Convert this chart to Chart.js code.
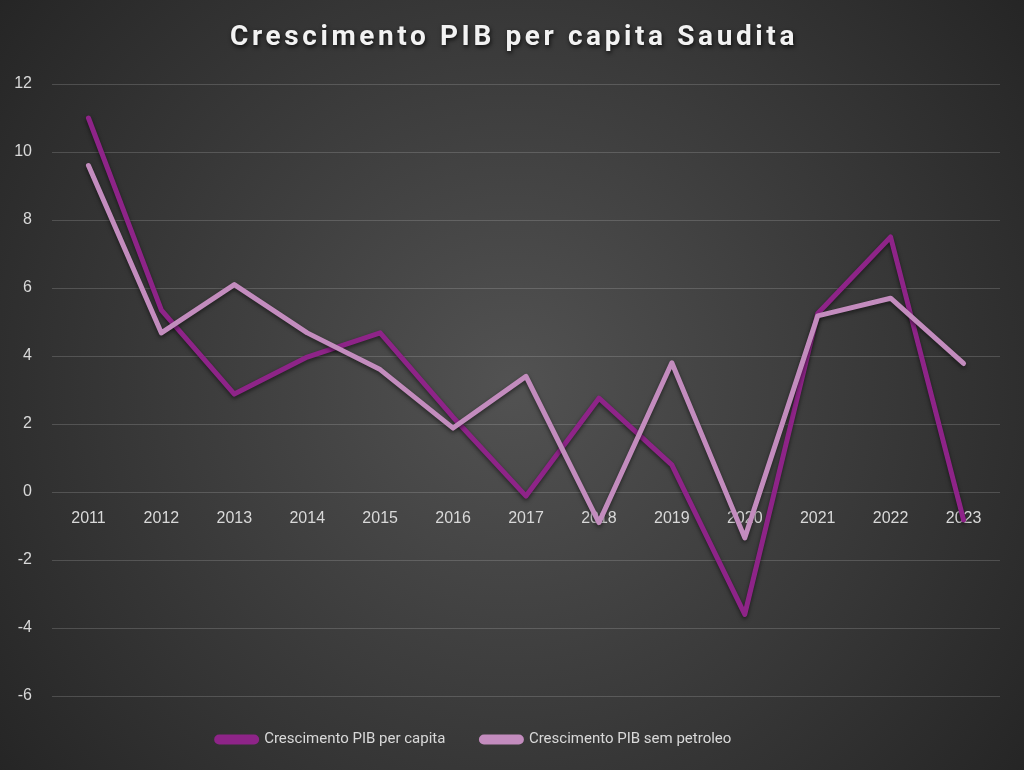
<!DOCTYPE html>
<html>
<head>
<meta charset="utf-8">
<script src="https://cdn.jsdelivr.net/npm/chart.js@4"></script>
<style>
    html, body { margin: 0; padding: 0; background: #2a2a2a; }
    #wrap { width: 1024px; height: 770px; }
</style>
</head>
<body>
<div id="wrap"><canvas id="pibChart" width="1024" height="770"></canvas></div>
<script>
const years = ["2011", "2012", "2013", "2014", "2015", "2016", "2017", "2018", "2019", "2020", "2021", "2022", "2023"];
const pibPerCapita = [11.0, 5.35, 2.88, 3.97, 4.68, 2.2, -0.12, 2.76, 0.8, -3.6, 5.25, 7.5, -0.82];
const pibSemPetroleo = [9.6, 4.68, 6.1, 4.68, 3.6, 1.88, 3.4, -0.9, 3.8, -1.35, 5.18, 5.7, 3.78];
const yTicks = [-6, -4, -2, 0, 2, 4, 6, 8, 10, 12];

const chartTitle = "Crescimento PIB per capita Saudita";

// background + title drawn by hand (gradient and text shadow)
const backdrop = {
    id: "backdrop",
    afterInit(chart) {
        // fixed legend band under the plot, like the Excel original
        const legend = chart.legend;
        if (!legend) return;
        const origFit = legend.fit;
        legend.fit = function () {
            origFit.call(this);
            this.height = 74;
        };
    },
    afterLayout(chart) {
        // legend in the original sits a bit left of centre
        const legend = chart.legend;
        if (!legend) return;
        legend.left -= 26;
        legend.right -= 26;
    },
    beforeDraw(chart) {
        const { ctx, width, height } = chart;
        ctx.save();
        const g = ctx.createRadialGradient(width / 2, height / 2, 0, width / 2, height / 2, 660);
        g.addColorStop(0, "#525252");
        g.addColorStop(1, "#242424");
        ctx.fillStyle = g;
        ctx.fillRect(0, 0, width, height);
        ctx.restore();
    },
    afterDraw(chart) {
        const ctx = chart.ctx;
        ctx.save();
        ctx.font = "bold 28px Roboto, 'Liberation Sans', sans-serif";
        if ("letterSpacing" in ctx) ctx.letterSpacing = "3.6px";
        ctx.textAlign = "center";
        ctx.textBaseline = "middle";
        ctx.shadowColor = "rgba(0,0,0,0.75)";
        ctx.shadowBlur = 4;
        ctx.shadowOffsetX = 1;
        ctx.shadowOffsetY = 2;
        ctx.fillStyle = "#f2f2f2";
        ctx.fillText(chartTitle, 514, 38);
        ctx.restore();
    },
    beforeDatasetDraw(chart) {
        const ctx = chart.ctx;
        ctx.save();
        ctx.shadowColor = "rgba(0,0,0,0.55)";
        ctx.shadowBlur = 4;
        ctx.shadowOffsetY = 2;
    },
    afterDatasetDraw(chart) {
        chart.ctx.restore();
    },
};

const data = {
    labels: years,
    datasets: [
        {
            label: "Crescimento PIB per capita",
            data: pibPerCapita,
            borderColor: "#8e2488",
            backgroundColor: "#8e2488",
            borderWidth: 5,
            pointRadius: 0,
            tension: 0,
            borderCapStyle: "round",
            borderJoinStyle: "round",
            order: 1,
        },
        {
            label: "Crescimento PIB sem petroleo",
            data: pibSemPetroleo,
            borderColor: "#c38cbe",
            backgroundColor: "#c38cbe",
            borderWidth: 5,
            pointRadius: 0,
            tension: 0,
            borderCapStyle: "round",
            borderJoinStyle: "round",
            order: 0,
        },
    ],
};

const config = {
    type: "line",
    data: data,
    options: {
        responsive: false,
        animation: false,
        layout: {
            padding: { top: 84, right: 24, bottom: 0, left: 0 },
        },
        plugins: {
            title: { display: false },
            tooltip: { enabled: false },
            legend: {
                position: "bottom",
                labels: {
                    color: "#d9d9d9",
                    font: { family: "Roboto, 'Liberation Sans', sans-serif", size: 15 },
                    boxWidth: 40,
                    boxHeight: 5,
                    useBorderRadius: true,
                    borderRadius: 2.5,
                    padding: 36,
                    sort: (a, b) => a.datasetIndex - b.datasetIndex,
                },
            },
        },
        scales: {
            x: {
                position: { y: 0 },
                offset: true,
                grid: { display: false, drawTicks: false },
                border: { display: false },
                ticks: {
                    color: "#d9d9d9",
                    font: { family: "'Liberation Sans', Arial, sans-serif", size: 16 },
                    padding: 17,
                    maxRotation: 0,
                },
            },
            y: {
                min: -6,
                max: 12,
                afterBuildTicks: (scale) => {
                    scale.ticks = yTicks.map((v) => ({ value: v }));
                },
                afterFit: (scale) => {
                    scale.width = 52;
                },
                grid: {
                    color: "rgba(217, 217, 217, 0.2)",
                    lineWidth: 1,
                    drawTicks: false,
                },
                border: { display: false },
                ticks: {
                    color: "#d9d9d9",
                    font: { family: "'Liberation Sans', Arial, sans-serif", size: 16 },
                    padding: 20,
                },
            },
        },
    },
    plugins: [backdrop],
};

new Chart(document.getElementById("pibChart"), config);
</script>
</body>
</html>
